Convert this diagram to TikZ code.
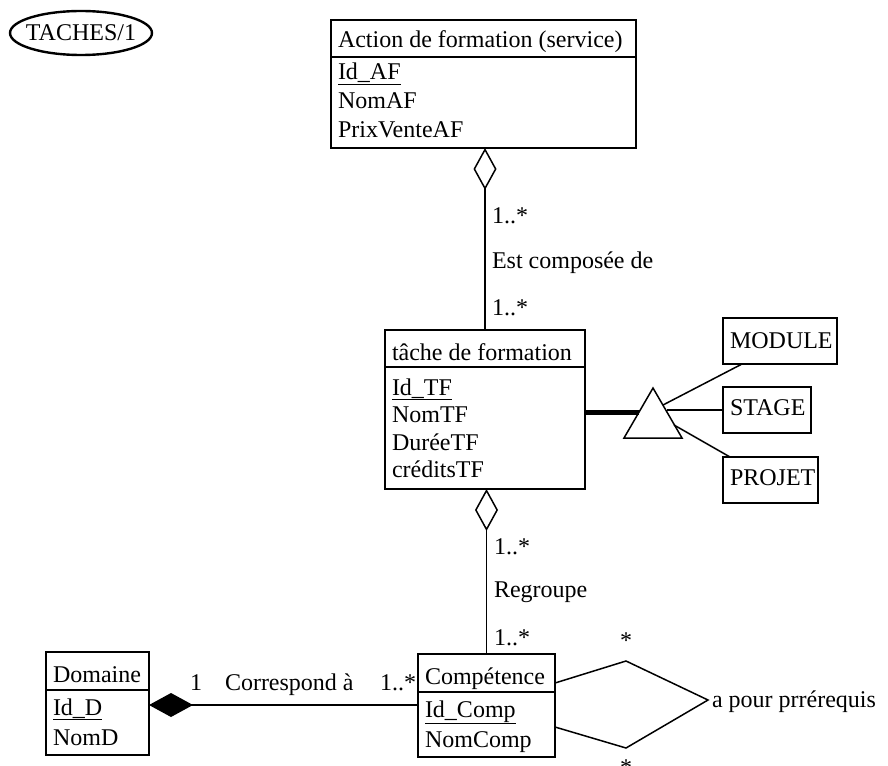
\documentclass[tikz,border=0pt]{standalone}
\usepackage{fontspec}
\setmainfont{Liberation Serif}
\usetikzlibrary{arrows.meta,calc}
\begin{document}
\begin{tikzpicture}[x=1pt,y=-1pt,
 box/.style={draw,line width=1.6pt,inner sep=0pt,outer sep=0pt,anchor=north west},
 txt/.style={anchor=base west,inner sep=0pt,outer sep=0pt,font=\fontsize{24}{28}\selectfont},
 ln/.style={line width=1.5pt},
 odiam/.style={-{Diamond[open,length=42pt,width=23pt,line width=1.5pt]}},
 fdiam/.style={-{Diamond[length=44pt,width=24pt]}}]
\useasboundingbox (0,0) rectangle (888,765);
\fill[white] (0,0) rectangle (888,765);

% TACHES/1
\node[inner sep=0pt,font=\fontsize{24}{28}\selectfont] (taches) at (81,33) {TACHES/1};
\draw[line width=2.4pt] (taches.center) ellipse [x radius=71pt, y radius=22pt];

% Action de formation
\node[box,minimum width=305pt,minimum height=128pt] (act) at (331,20) {};
\coordinate (actsep) at (0,57);
\draw[line width=1.6pt] (act.west |- actsep) -- (act.east |- actsep);
\node[txt] (actt) at (338,48) {Action de formation (service)};
\node[txt] (acta1) at (338,80) {\underline{Id\_AF}};
\node[txt] (acta2) at (338,109) {NomAF};
\node[txt] (acta3) at (338,138) {PrixVenteAF};

% tache de formation
\node[box,minimum width=200pt,minimum height=159pt] (tf) at (385,330) {};
\coordinate (tfsep) at (0,367);
\draw[line width=1.6pt] (tf.west |- tfsep) -- (tf.east |- tfsep);
\node[txt] (tft) at (392,360) {tâche de formation};
\node[txt] (tfa1) at (392,395) {\underline{Id\_TF}};
\node[txt] (tfa2) at (392,422) {NomTF};
\node[txt] (tfa3) at (392,450) {DuréeTF};
\node[txt] (tfa4) at (392,477) {créditsTF};

% Competence
\node[box,minimum width=137pt,minimum height=103pt] (comp) at (418,654) {};
\coordinate (compsep) at (0,692);
\draw[line width=1.6pt] (comp.west |- compsep) -- (comp.east |- compsep);
\node[txt] (compt) at (425,684) {Compétence};
\node[txt] (compa1) at (425,717) {\underline{Id\_Comp}};
\node[txt] (compa2) at (425,747) {NomComp};

% Domaine
\node[box,minimum width=103pt,minimum height=103pt] (dom) at (46,652) {};
\coordinate (domsep) at (0,690);
\draw[line width=1.6pt] (dom.west |- domsep) -- (dom.east |- domsep);
\node[txt] (domt) at (53,682) {Domaine};
\node[txt] (doma1) at (53,715) {\underline{Id\_D}};
\node[txt] (doma2) at (53,745) {NomD};

% MODULE / STAGE / PROJET
\node[box,minimum width=114pt,minimum height=46pt] (mod) at (723,318) {};
\node[txt] (modt) at (730,348) {MODULE};
\node[box,minimum width=88pt,minimum height=46pt] (stg) at (723,387) {};
\node[txt] (stgt) at (730,415) {STAGE};
\node[box,minimum width=95pt,minimum height=46pt] (prj) at (723,457) {};
\node[txt] (prjt) at (730,485) {PROJET};

% Est composee de
\draw[ln,odiam] (tf.north) -- (tf.north |- act.south);
\node[txt] (m1) at (492,223) {1..*};
\node[txt] (l1) at (492,268) {Est composée de};
\node[txt] (m2) at (492,315) {1..*};

% Regroupe
\draw[ln,odiam] (comp.north) -- (comp.north |- tf.south);
\node[txt] (m3) at (494,554) {1..*};
\node[txt] (l2) at (494,597) {Regroupe};
\node[txt] (m4) at (494,645) {1..*};

% Correspond a
\coordinate (cy) at (0,705);
\draw[ln,fdiam] (comp.west |- cy) -- (dom.east |- cy);
\node[txt] (m5) at (190,690) {1};
\node[txt] (l3) at (225,690) {Correspond à};
\node[txt] (m6) at (380,690) {1..*};

% generalisation triangle
\coordinate (tA) at (653,388);
\coordinate (tR) at (682,438);
\coordinate (tL) at (624,438);
\draw[ln] (tA) -- (tR) -- (tL) -- cycle;
\coordinate (ty) at (0,412);
\coordinate (tin) at (639,412);
\draw[line width=5pt] (tf.east |- ty) -- (tin);
\coordinate (tm) at (663,405);
\coordinate (ts) at (667,410);
\coordinate (tp) at (674,425);
\coordinate (mb) at (742,364);
\coordinate (pt) at (730,457);
\draw[ln] (tm) -- (mb);
\draw[ln] (ts) -- (stg.west);
\draw[ln] (tp) -- (pt);

% a pour prerequis
\coordinate (pa) at (555,683);
\coordinate (ptop) at (626,661);
\coordinate (pright) at (708,700);
\coordinate (pbot) at (626,748);
\coordinate (pb) at (555,727);
\draw[ln] (pa) -- (ptop) -- (pright) -- (pbot) -- (pb);
\node[txt] (l4) at (712,707) {a pour prrérequis};
\node[anchor=base,inner sep=0pt,font=\fontsize{24}{28}\selectfont] (s1) at (626,648) {*};
\node[anchor=base,inner sep=0pt,font=\fontsize{24}{28}\selectfont] (s2) at (626,775) {*};
\end{tikzpicture}
\end{document}
